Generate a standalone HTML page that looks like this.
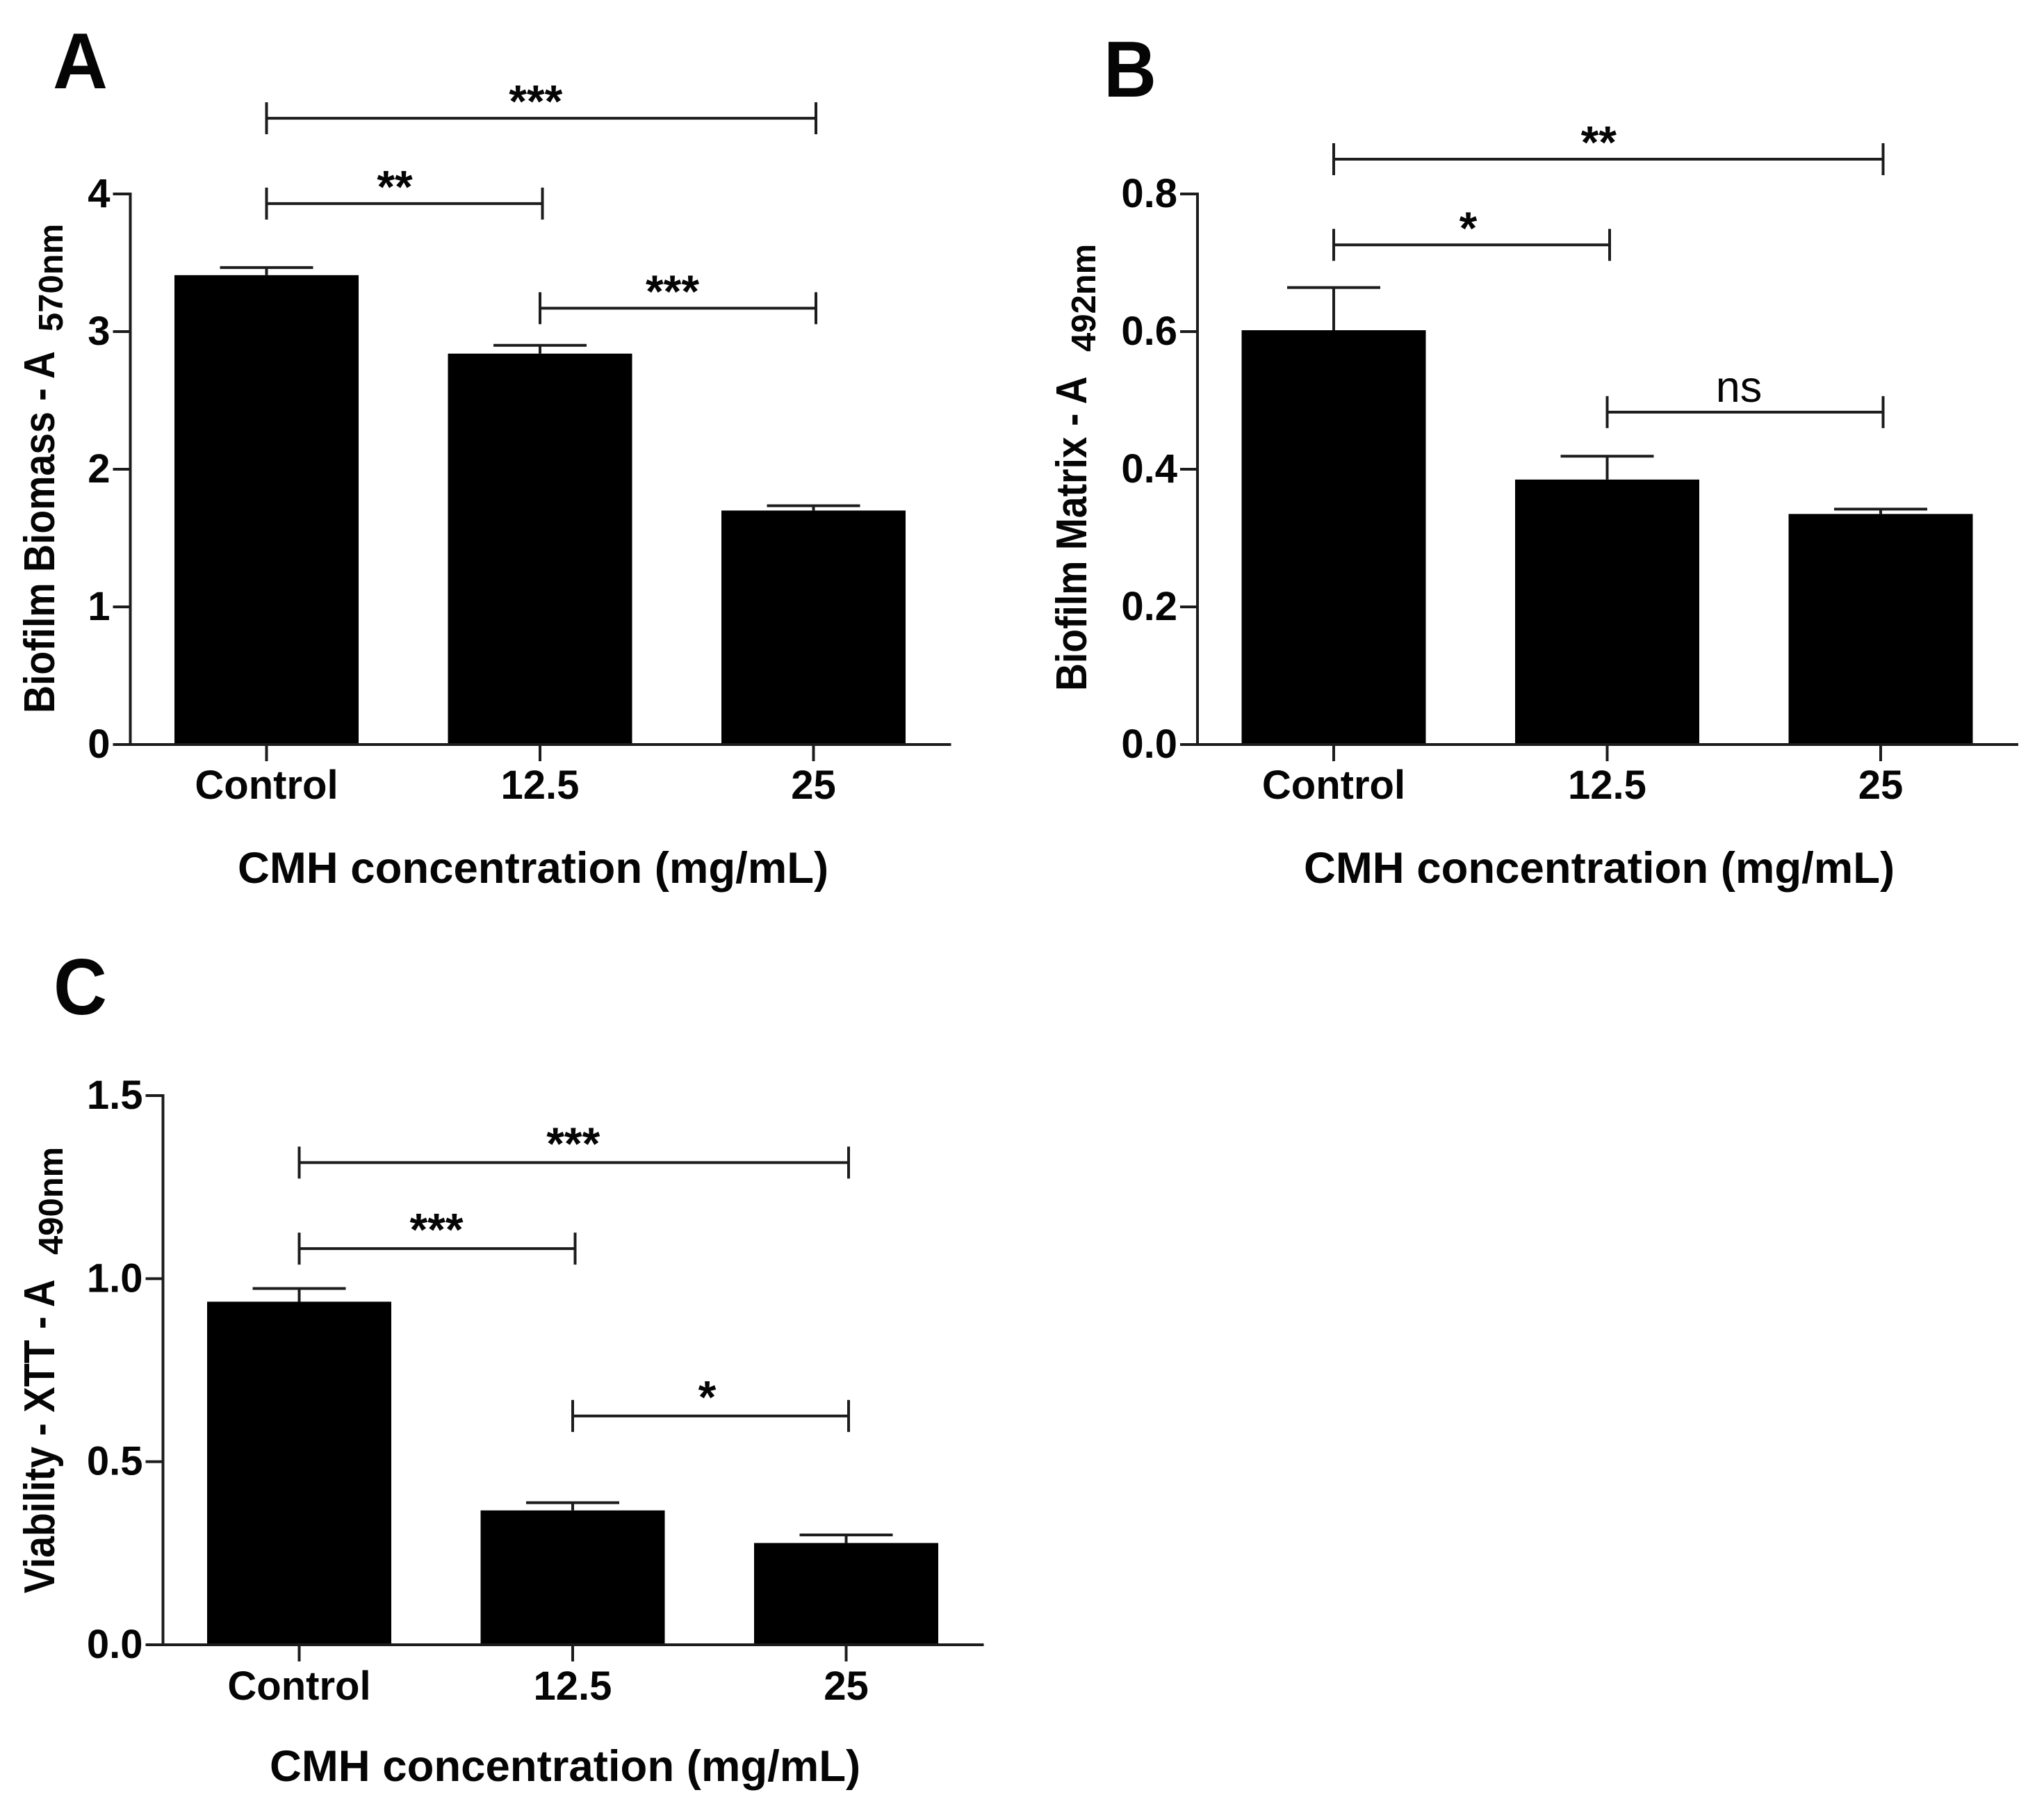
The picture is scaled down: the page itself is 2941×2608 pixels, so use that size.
<!DOCTYPE html>
<html lang="en">
<head>
<meta charset="utf-8">
<title>Biofilm biomass, matrix and viability by CMH concentration</title>
<style>
html,body{margin:0;padding:0;background:#fff;}
svg{display:block;}
text{font-family:"Liberation Sans",Arial,sans-serif;fill:#050505;}
.b{font-weight:bold;}
</style>
</head>
<body>
<svg id="figure" xmlns="http://www.w3.org/2000/svg" width="2941" height="2608" viewBox="0 0 2941 2608">
  <rect width="2941" height="2608" fill="#fff"/>

  <text class="b" x="76" y="127" font-size="114" textLength="79" lengthAdjust="spacingAndGlyphs">A</text>
  <text class="b" x="1588" y="139" font-size="114" textLength="76" lengthAdjust="spacingAndGlyphs">B</text>
  <text class="b" x="77" y="1459" font-size="114" textLength="77" lengthAdjust="spacingAndGlyphs">C</text>

  <text class="b" font-size="55.4" transform="translate(78 1026) rotate(-90) scale(1 1.12)">Biofilm Biomass - A</text>
  <text class="b" font-size="49" transform="translate(90 477) rotate(-90)">570nm</text>
  <text class="b" font-size="63.5" x="342" y="1270">CMH concentration (mg/mL)</text>

  <text class="b" font-size="55.3" transform="translate(1563 994) rotate(-90) scale(1 1.12)">Biofilm Matrix - A</text>
  <text class="b" font-size="49" transform="translate(1576 506) rotate(-90)">492nm</text>
  <text class="b" font-size="63.5" x="1876" y="1270">CMH concentration (mg/mL)</text>

  <text class="b" font-size="55.3" transform="translate(78 2292) rotate(-90) scale(1 1.12)">Viability - XTT - A</text>
  <text class="b" font-size="49" transform="translate(90 1805) rotate(-90)">490nm</text>
  <text class="b" font-size="63.5" x="388" y="2562">CMH concentration (mg/mL)</text>
</svg>

<script>
const categories = ['Control', '12.5', '25'];

const panelAValues = [3.41, 2.84, 1.70];
const panelAErrors = [0.055, 0.06, 0.035];
const panelATicks = [0, 1, 2, 3, 4];
const panelATickLabels = ['0', '1', '2', '3', '4'];
const panelABracketFrom = [0, 0, 1];
const panelABracketTo = [2, 1, 2];
const panelABracketLevel = [4.55, 3.93, 3.17];
const panelABracketLabel = ['***', '**', '***'];

const panelBValues = [0.602, 0.385, 0.335];
const panelBErrors = [0.062, 0.034, 0.007];
const panelBTicks = [0, 0.2, 0.4, 0.6, 0.8];
const panelBTickLabels = ['0.0', '0.2', '0.4', '0.6', '0.8'];
const panelBBracketFrom = [0, 0, 1];
const panelBBracketTo = [2, 1, 2];
const panelBBracketLevel = [0.8505, 0.726, 0.483];
const panelBBracketLabel = ['**', '*', 'ns'];

const panelCValues = [0.937, 0.367, 0.278];
const panelCErrors = [0.036, 0.021, 0.022];
const panelCTicks = [0, 0.5, 1, 1.5];
const panelCTickLabels = ['0.0', '0.5', '1.0', '1.5'];
const panelCBracketFrom = [0, 0, 1];
const panelCBracketTo = [2, 1, 2];
const panelCBracketLevel = [1.317, 1.082, 0.625];
const panelCBracketLabel = ['***', '***', '*'];

const SVG_NS = 'http://www.w3.org/2000/svg';
const figure = document.getElementById('figure');
const INK = '#1c1c1c';

function make(tag, name, attrs, text) {
  const el = document.createElementNS(SVG_NS, tag);
  
  
  for (const k in attrs) el.setAttribute(k, attrs[k]);
  if (text !== undefined) el.textContent = text;
  figure.appendChild(el);
  return el;
}

function seg(name, x1, y1, x2, y2, w) {
  return make('line', name, {x1: x1, y1: y1, x2: x2, y2: y2, stroke: INK, 'stroke-width': w || 4});
}

function drawPanel(p) {
  const yScale = v => p.y0 - (v - 0) * (p.y0 - p.yTop) / p.yMax;
  const xScale = i => p.x0 + i * 393.5;
  const barW = 265, capW = 134;

  categories.forEach((cat, i) => {
    const cx = xScale(i);
    const top = yScale(p.values[i]);
    make('rect', p.id + '-bar-' + i, {x: cx - barW / 2, y: top, width: barW, height: p.y0 - top, fill: '#000'});
    const errTop = yScale(p.values[i] + p.errors[i]);
    seg(p.id + '-error-stem-' + i, cx, top, cx, errTop);
    seg(p.id + '-error-cap-' + i, cx - capW / 2, errTop, cx + capW / 2, errTop);
    seg(p.id + '-x-tick-' + i, cx, p.y0, cx, p.y0 + 24);
    make('text', p.id + '-x-tick-label-' + i, {x: cx, y: p.y0 + p.catLabelDy, 'text-anchor': 'middle', 'font-size': 58, 'font-weight': 'bold'}, cat);
  });

  seg(p.id + '-y-axis-line', p.axisX, p.yTop - 2, p.axisX, p.y0 + 2);
  seg(p.id + '-x-axis-line', p.axisX - 25, p.y0, p.xEnd, p.y0);

  p.ticks.forEach((t, i) => {
    const y = yScale(t);
    seg(p.id + '-y-tick-' + i, p.axisX - 25, y, p.axisX, y);
    make('text', p.id + '-y-tick-label-' + i, {x: p.axisX - 29, y: y + 19, 'text-anchor': 'end', 'font-size': 58, 'font-weight': 'bold'}, p.tickLabels[i]);
  });

  p.bracketFrom.forEach((from, i) => {
    const xa = xScale(from);
    const xb = xScale(p.bracketTo[i]) + 3.5;
    const y = yScale(p.bracketLevel[i]);
    seg(p.id + '-bracket-line-' + i, xa, y, xb, y);
    seg(p.id + '-bracket-left-end-' + i, xa, y - 23, xa, y + 23);
    seg(p.id + '-bracket-right-end-' + i, xb, y - 23, xb, y + 23);
    const label = p.bracketLabel[i];
    const mid = (xa + xb) / 2;
    if (label === 'ns') {
      make('text', p.id + '-significance-label-' + i, {x: mid - 9, y: y - 15, 'text-anchor': 'middle', 'font-size': 63}, label);
    } else {
      const shift = label.length === 3 ? -8 + p.tripleDx : label.length === 2 ? -14 : -5;
      make('text', p.id + '-significance-label-' + i, {x: mid + shift, y: y - 1.5 - p.labelLift, 'text-anchor': 'middle', 'font-size': 66, 'font-weight': 'bold'}, label);
    }
  });
}

drawPanel({id: 'panel-a', x0: 383.5, axisX: 187.5, xEnd: 1368.5, y0: 1071, yTop: 279, yMax: 4, catLabelDy: 78, tripleDx: 0, labelLift: 0,
  values: panelAValues, errors: panelAErrors, ticks: panelATicks, tickLabels: panelATickLabels,
  bracketFrom: panelABracketFrom, bracketTo: panelABracketTo, bracketLevel: panelABracketLevel, bracketLabel: panelABracketLabel});

drawPanel({id: 'panel-b', x0: 1919, axisX: 1723, xEnd: 2904, y0: 1071, yTop: 279, yMax: 0.8, catLabelDy: 78, tripleDx: 0, labelLift: 0,
  values: panelBValues, errors: panelBErrors, ticks: panelBTicks, tickLabels: panelBTickLabels,
  bracketFrom: panelBBracketFrom, bracketTo: panelBBracketTo, bracketLevel: panelBBracketLevel, bracketLabel: panelBBracketLabel});

drawPanel({id: 'panel-c', x0: 430.5, axisX: 234.5, xEnd: 1415.5, y0: 2366, yTop: 1576, yMax: 1.5, catLabelDy: 79, tripleDx: 7, labelLift: 3,
  values: panelCValues, errors: panelCErrors, ticks: panelCTicks, tickLabels: panelCTickLabels,
  bracketFrom: panelCBracketFrom, bracketTo: panelCBracketTo, bracketLevel: panelCBracketLevel, bracketLabel: panelCBracketLabel});
</script>
</body>
</html>
